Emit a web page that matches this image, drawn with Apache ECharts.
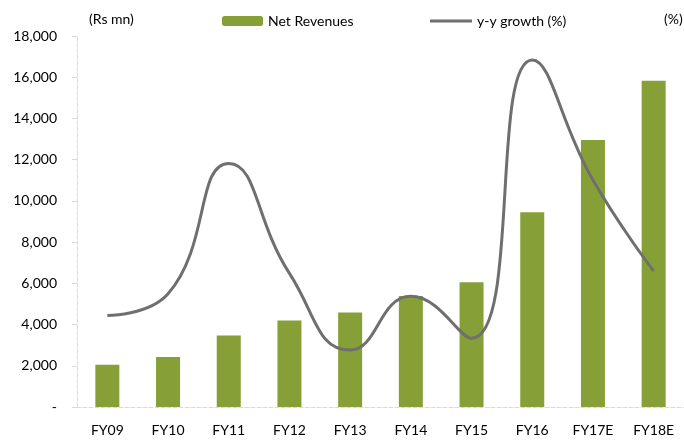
<!DOCTYPE html>
<html>
<head>
<meta charset="utf-8">
<script src="https://cdn.jsdelivr.net/npm/echarts@6/dist/echarts.min.js"></script>
<style>
    html, body {margin: 0; padding: 0; background: #fff;}
    #chart {width: 684px; height: 440px;}
</style>
</head>
<body>
<div id="chart"></div>
<script>
//data
var categories = ['FY09', 'FY10', 'FY11', 'FY12', 'FY13', 'FY14', 'FY15', 'FY16', 'FY17E', 'FY18E'];
var revenues = [2050, 2430, 3470, 4200, 4580, 5390, 6050, 9450, 12950, 15830];
var growth = [14.8, 18.3, 39.4, 21.6, 9.2, 17.9, 11.1, 56.1, 36.7, 22.0];
var revMax = 18000;
var revStep = 2000;
var growthMax = 60;
var growthStep = 10;

var font = 'Lato, "Open Sans", sans-serif';
var axisGray = '#d9d9d9';
var lineGray = '#6f6f6f';
var labelStyle = {fontFamily: font, fontSize: 14, color: '#000', fontWeight: 'normal'};

var chart = echarts.init(document.getElementById('chart'));
chart.setOption({
    animation: false,
    textStyle: {fontFamily: font},
    //axis units
    title: [
        {text: '(Rs mn)', left: 84, top: 7, textStyle: labelStyle},
        {text: '(%)', left: 659, top: 7, textStyle: labelStyle}
    ],
    grid: {left: 77, top: 36, width: 617, height: 371},
    legend: [
        {
            left: 217, top: 9,
            itemWidth: 41, itemHeight: 10,
            textStyle: labelStyle,
            data: ['Net Revenues']
        },
        {
            left: 425, top: 9,
            itemWidth: 42, itemHeight: 3,
            textStyle: labelStyle,
            data: [{name: 'y-y growth (%)', icon: 'rect'}]
        }
    ],
    xAxis: {
        type: 'category',
        data: categories,
        axisLine: {lineStyle: {color: axisGray, type: 'dashed'}},
        axisTick: {length: 4, lineStyle: {color: axisGray}},
        axisLabel: {margin: 16, fontSize: 14, color: '#000', fontFamily: font}
    },
    yAxis: [
        {
            type: 'value',
            min: 0, max: revMax, interval: revStep,
            axisLine: {show: true, lineStyle: {color: axisGray, type: 'dashed'}},
            axisTick: {show: true, length: 5, lineStyle: {color: axisGray}},
            splitLine: {show: false},
            axisLabel: {
                margin: 20, fontSize: 14, color: '#000', fontFamily: font,
                formatter: function (v) {
                    return v === 0 ? '-' : v.toLocaleString('en-US');
                }
            }
        },
        {
            type: 'value',
            min: 0, max: growthMax, interval: growthStep,
            axisLine: {show: false},
            axisTick: {show: false},
            splitLine: {show: false},
            axisLabel: {show: false}
        }
    ],
    series: [
        {
            name: 'Net Revenues',
            type: 'bar',
            barWidth: 24,
            itemStyle: {color: '#86a037'},
            data: revenues
        },
        {
            name: 'y-y growth (%)',
            type: 'line',
            yAxisIndex: 1,
            smooth: 0.5,
            symbol: 'none',
            lineStyle: {color: lineGray, width: 3},
            itemStyle: {color: lineGray},
            data: growth
        }
    ]
});
</script>
</body>
</html>
